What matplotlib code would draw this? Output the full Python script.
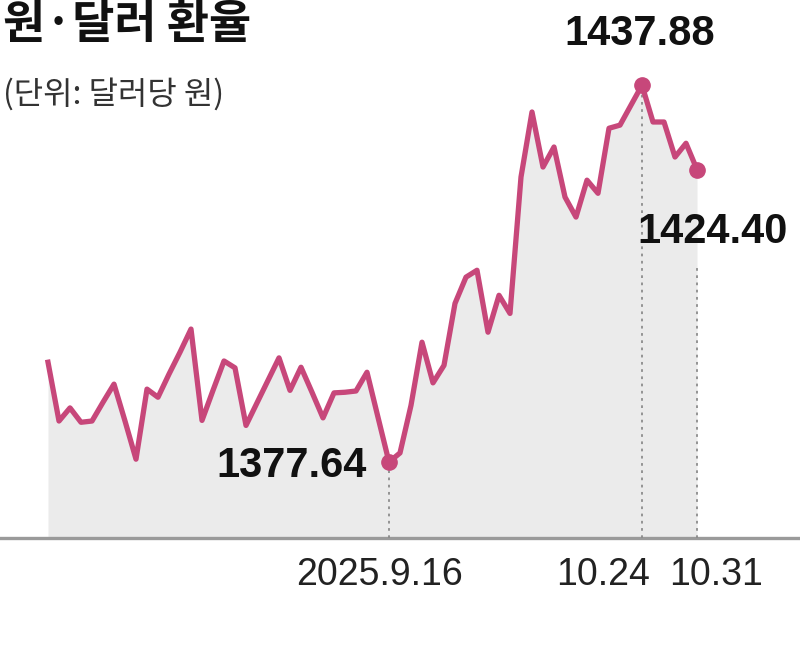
import matplotlib
matplotlib.use("Agg")
import matplotlib.pyplot as plt

# 원·달러 환율, 2025.8.1 ~ 10.31 trading days
rates = [
    1393.6, 1384.2, 1386.3, 1384.0, 1384.2, 1387.2, 1390.1, 1384.2, 1378.1, 1389.3,
    1388.0, 1391.7, 1395.2, 1398.9, 1384.3, 1389.1, 1393.8, 1392.7, 1383.5, 1387.1,
    1390.7, 1394.3, 1389.1, 1392.8, 1388.8, 1384.7, 1388.7, 1388.8, 1389.0, 1392.0,
    1384.8, 1377.64, 1379.1, 1386.7, 1396.8, 1390.3, 1393.1, 1403.0, 1407.2, 1408.3,
    1398.4, 1404.3, 1401.4, 1423.2, 1433.6, 1424.8, 1428.0, 1420.0, 1416.8, 1422.7,
    1420.6, 1431.0, 1431.5, 1434.7, 1437.88, 1432.0, 1432.0, 1426.4, 1428.6, 1424.40,
]
days = list(range(len(rates)))

# marked points: index, label
mark_idx = [31, 54, 59]
mark_labels = ["1377.64", "1437.88", "1424.40"]
tick_labels = ["2025.9.16", "10.24", "10.31"]

line_color = "#c7477a"
fill_color = "#ebebeb"
grey = "#9a9a9a"
num_font = ["Liberation Sans", "DejaVu Sans"]
kr_font = ["Noto Sans CJK KR", "DejaVu Sans"]

fig = plt.figure(figsize=(8, 6.45), dpi=100)
ax = fig.add_axes([0, 0, 1, 1])
ax.set_xlim(-48 / 11, 752 / 11)
ax.set_ylim(1348.4, 1451.5)
ax.axis("off")

base = 1365.5
ax.fill_between(days, rates, base, color=fill_color, lw=0, zorder=1)
ax.axhline(base, color=grey, lw=2.4, zorder=2)

# dotted guide lines
for i in mark_idx:
    top = rates[i] if i != 59 else rates[i] - 15.5
    ax.plot([i, i], [base, top], color="#8c8c8c", lw=1.3, ls=(0, (1.5, 2.5)), zorder=2)

ax.plot(days, rates, color=line_color, lw=3.8, solid_joinstyle="round", zorder=3)
ax.plot(mark_idx, [rates[i] for i in mark_idx], "o", color=line_color, ms=11, zorder=4)

# value labels
offsets = [(-16, -3), (-2, 37), (-43, -45)]
aligns = ["right", "center", "left"]
for i, lab, off, ha in zip(mark_idx, mark_labels, offsets, aligns):
    ax.annotate(lab, (i, rates[i]), xytext=off, textcoords="offset points",
                ha=ha, va="center", fontsize=30, fontweight="bold",
                family=num_font, color="#111111", zorder=5)

# date labels under the axis
tick_off = [-7, -28, 14]
for i, lab, dx in zip(mark_idx, tick_labels, tick_off):
    ax.annotate(lab, (i, base), xytext=(dx, -14), textcoords="offset points",
                ha="center", va="top", fontsize=27, family=num_font, color="#222222")

fig.text(3 / 800, 1 - 2 / 645, "원·달러 환율", ha="left", va="top",
         fontsize=33, fontweight="bold", family=kr_font, color="#111111")
fig.text(3 / 800, 1 - 78 / 645, "(단위: 달러당 원)", ha="left", va="top",
         fontsize=23, family=kr_font, color="#333333")

fig.savefig("out.png", dpi=100)
